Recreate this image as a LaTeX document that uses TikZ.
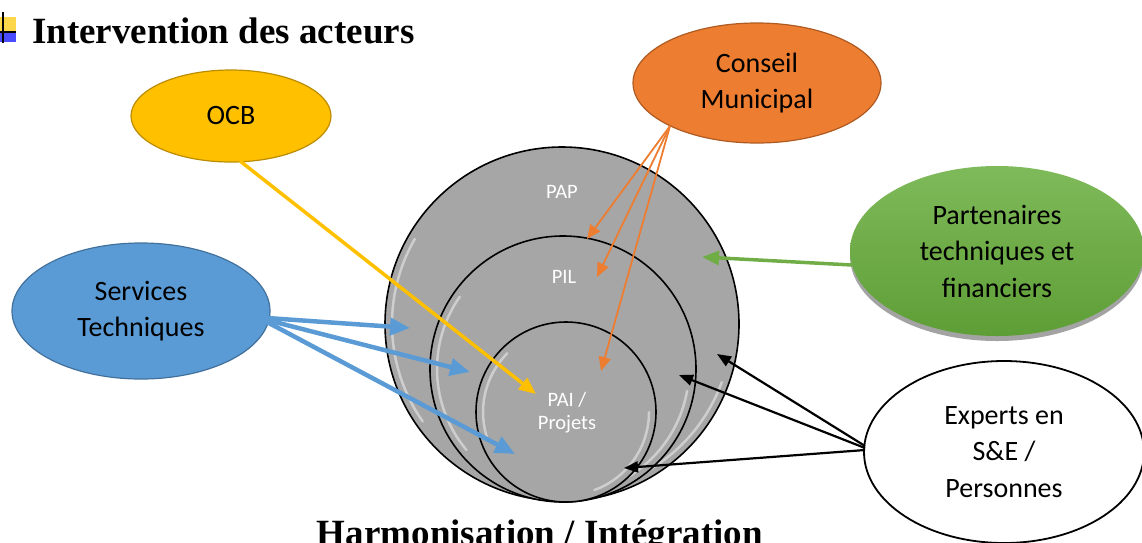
\documentclass[tikz,border=0pt]{standalone}
\usepackage{fontspec}
\setmainfont{Carlito}
\newfontfamily\titlefont{Liberation Serif}
\usetikzlibrary{shapes.geometric,arrows.meta,shadows}
\definecolor{ocbfill}{HTML}{FFC000}
\definecolor{ocbline}{HTML}{BC8C00}
\definecolor{cmfill}{HTML}{ED7D31}
\definecolor{cmline}{HTML}{AE5A21}
\definecolor{stfill}{HTML}{5B9BD5}
\definecolor{stline}{HTML}{41719C}
\definecolor{gtop}{HTML}{7FBA5A}
\definecolor{gbot}{HTML}{5E9E36}
\definecolor{garrow}{HTML}{70AD47}
\definecolor{circfill}{HTML}{A6A6A6}
\tikzset{
  actor/.style={ellipse, inner sep=0pt, align=center, line width=1.2pt,
    font=\fontsize{28}{36.5}\selectfont},
  ring/.style={circle, inner sep=0pt, fill=circfill, draw=black, line width=1.6pt},
  ringlabel/.style={text=white, align=center, font=\fontsize{20.5}{23}\selectfont},
  highlight/.style={draw=white, line width=2.5pt, opacity=0.45, line cap=round},
  orangearrow/.style={draw=cmfill, line width=1.8pt, -{Triangle[length=14pt,width=12pt]}},
  bluearrow/.style={draw=stfill, line width=4.5pt, -{Triangle[length=20pt,width=17pt]}},
  yellowarrow/.style={draw=ocbfill, line width=3.5pt, -{Triangle[length=17pt,width=14pt]}},
  greenarrow/.style={draw=garrow, line width=3.5pt, -{Triangle[length=17pt,width=14pt]}},
  blackarrow/.style={draw=black, line width=2.2pt, -{Triangle[length=14pt,width=11pt]}},
  bigtitle/.style={font=\titlefont\bfseries\fontsize{37}{40}\selectfont, inner sep=0pt}
}
\begin{document}
\begin{tikzpicture}[x=1pt,y=-1pt]
\useasboundingbox (0,0) rectangle (1142,542);

% title icon
\fill[yellow!60!orange!70] (0,17) rectangle (16,32);
\fill[blue!70] (0,32) rectangle (16,42);
\draw[black, line width=1.2pt] (3,12) -- (3,43);
\draw[black, line width=1.2pt] (0,32) -- (16,32);
\node[bigtitle, anchor=base west] (title) at (32,43) {Intervention des acteurs};
\node[bigtitle, anchor=base] (bottom) at (540,545) {Harmonisation / Intégration};

% nested circles
\node[ring, minimum size=354pt] (pap) at (562,324) {};
\draw[highlight] ([shift={(150:170pt)}]562,324) arc[start angle=150, end angle=215, radius=170pt];
\draw[highlight] ([shift={(-20:170pt)}]562,324) arc[start angle=-20, end angle=-70, radius=170pt];
\node[ring, minimum size=266pt] (pil) at (563,369) {};
\draw[highlight] ([shift={(145:126pt)}]563,369) arc[start angle=145, end angle=220, radius=126pt];
\draw[highlight] ([shift={(-10:126pt)}]563,369) arc[start angle=-10, end angle=-70, radius=126pt];
\node[ring, minimum size=180pt] (pai) at (566,412) {};
\draw[highlight] ([shift={(135:83pt)}]566,412) arc[start angle=135, end angle=200, radius=83pt];
\draw[highlight] ([shift={(0:83pt)}]566,412) arc[start angle=0, end angle=-70, radius=83pt];
\node[ringlabel] (paplabel) at (562,192) {PAP};
\node[ringlabel] (pillabel) at (564,277) {PIL};
\node[ringlabel] (pailabel) at (567,413) {PAI /\\Projets};

% actors
\node[actor, fill=ocbfill, draw=ocbline, minimum width=200pt, minimum height=92pt] (ocb) at (231,116) {OCB};
\node[actor, fill=cmfill, draw=cmline, minimum width=248pt, minimum height=120pt] (cm) at (757,83) {Conseil\\Municipal};
\node[actor, fill=stfill, draw=stline, minimum width=258pt, minimum height=136pt] (st) at (141,311) {Services\\Techniques};
\node[actor, top color=gtop, bottom color=gbot, draw=none, minimum width=294pt, minimum height=170pt,
  drop shadow={shadow xshift=0pt, shadow yshift=-5pt, fill=black!45, opacity=0.8}] (ptf) at (997,251) {Partenaires\\techniques et\\financiers};
\node[actor, fill=white, draw=black, line width=1.8pt, minimum width=280pt, minimum height=182pt] (exp) at (1004,452) {Experts en\\S\&E /\\Personnes};

% connector end points
\coordinate (cmsrc) at (670,126);
\coordinate (cmt1) at (587,239);
\coordinate (cmt2) at (597,277);
\coordinate (cmt3) at (601,371);
\coordinate (ocbsrc) at (240,161);
\coordinate (ocbt) at (536,394);
\coordinate (stsrc1) at (267,318);
\coordinate (stsrc2) at (267,320);
\coordinate (stsrc3) at (267,322);
\coordinate (stt1) at (410,328);
\coordinate (stt2) at (470,372);
\coordinate (stt3) at (515,454);
\coordinate (ptfsrc) at (852,265);
\coordinate (ptft) at (702,257);
\coordinate (expsrc1) at (865,446);
\coordinate (expsrc2) at (865,448);
\coordinate (expsrc3) at (865,450);
\coordinate (expt1) at (717,354);
\coordinate (expt2) at (679,375);
\coordinate (expt3) at (624,468);

\draw[orangearrow] (cmsrc) -- (cmt1);
\draw[orangearrow] (cmsrc) -- (cmt2);
\draw[orangearrow] (cmsrc) -- (cmt3);
\draw[yellowarrow] (ocbsrc) -- (ocbt);
\draw[bluearrow] (stsrc1) -- (stt1);
\draw[bluearrow] (stsrc2) -- (stt2);
\draw[bluearrow] (stsrc3) -- (stt3);
\draw[greenarrow] (ptfsrc) -- (ptft);
\draw[blackarrow] (expsrc1) -- (expt1);
\draw[blackarrow] (expsrc2) -- (expt2);
\draw[blackarrow] (expsrc3) -- (expt3);
\end{tikzpicture}
\end{document}
